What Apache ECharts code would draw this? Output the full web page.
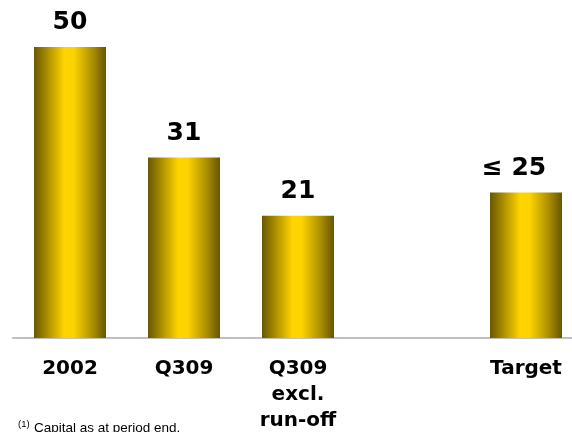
<!DOCTYPE html>
<html><head><meta charset="utf-8">
<script src="https://cdn.jsdelivr.net/npm/echarts@6/dist/echarts.min.js"></script>
<style>html,body{margin:0;padding:0;background:#fff}#c{width:572px;height:432px}</style>
</head><body><div id="c"></div>
<script>
const categories = ['2002', 'Q309', 'Q309\nexcl.\nrun-off', '', 'Target'];
const values = [50, 31, 21, null, 25];
const valueLabels = ['50', '31', '21', '', '≤ 25'];
const footnoteMark = '(1)';
const footnoteText = 'Capital as at period end.';

const grad = new echarts.graphic.LinearGradient(0, 0, 1, 0, [
  {offset: 0, color: '#6a5700'},
  {offset: 0.18, color: '#a88c00'},
  {offset: 0.42, color: '#ffd500'},
  {offset: 0.55, color: '#fdd300'},
  {offset: 0.8, color: '#b09300'},
  {offset: 1, color: '#685500'}
]);

const data = values.map((v, i) => {
  if (v === null) return '-';
  const item = {value: v};
  if (i === 4) item.label = {offset: [-12, 0]};
  return item;
});

const chart = echarts.init(document.getElementById('c'), null, {renderer: 'canvas'});
chart.setOption({
  animation: false,
  backgroundColor: '#fff',
  grid: {left: 13, top: 47, width: 570, height: 291, containLabel: false, outerBoundsMode: 'none'},
  xAxis: {
    type: 'category',
    data: categories,
    axisLine: {show: true, lineStyle: {color: '#c0c0c0', width: 2}},
    axisTick: {show: false},
    axisLabel: {
      interval: 0, margin: 18, color: '#000', fontSize: 20, fontWeight: 'bold',
      fontFamily: 'DejaVu Sans', lineHeight: 26
    }
  },
  yAxis: {type: 'value', min: 0, max: 50, show: false, splitLine: {show: false}},
  series: [{
    type: 'bar',
    data: data,
    barWidth: 72,
    itemStyle: {color: grad},
    label: {
      show: true, position: 'top', distance: 12,
      formatter: p => valueLabels[p.dataIndex],
      color: '#000', fontSize: 25, fontWeight: 'bold', fontFamily: 'DejaVu Sans'
    }
  }],
  graphic: [
    {type: 'text', left: 18, top: 419, style: {text: footnoteMark, fontSize: 9.5, fontFamily: 'Liberation Sans', fill: '#000'}},
    {type: 'text', left: 34, top: 421, style: {text: footnoteText, fontSize: 13.5, fontFamily: 'Liberation Sans', fill: '#000'}}
  ]
});
</script></body></html>
